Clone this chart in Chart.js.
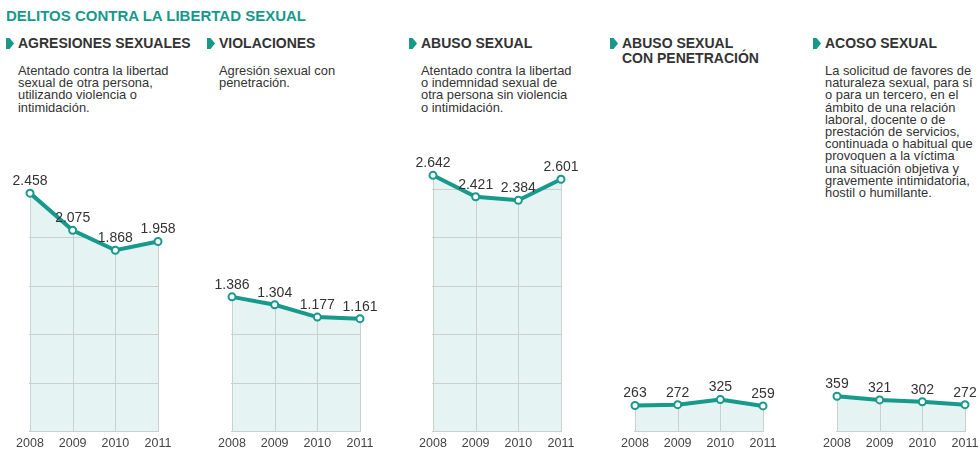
<!DOCTYPE html>
<html lang="es">
<head>
<meta charset="utf-8">
<script src="https://cdn.jsdelivr.net/npm/chart.js@4.4.1/dist/chart.umd.min.js"></script>
<style>
  body { margin: 0; width: 980px; height: 460px; background: #fff; position: relative; overflow: hidden;
         font-family: 'Liberation Sans', Arial, sans-serif; }
  .main-title { position: absolute; left: 6px; top: 7px; font-size: 15px; font-weight: bold; color: #16998b; }
  .panel-title { position: absolute; top: 36px; font-size: 14px; font-weight: bold; color: #333; line-height: 14.5px; }
  .panel-title::before { content: ''; position: absolute; left: -12px; top: 2px; width: 8px; height: 11px;
         background: #16998b; clip-path: polygon(0 0, 45% 0, 100% 50%, 45% 100%, 0 100%); }
  .desc { position: absolute; top: 65px; font-size: 12.9px; color: #333; line-height: 12.2px; }
  canvas { position: absolute; }
</style>
</head>
<body>
<div class="main-title">DELITOS CONTRA LA LIBERTAD SEXUAL</div>

<div class="panel-title" style="left:18px">AGRESIONES SEXUALES</div>
<div class="desc" style="left:18px">Atentado contra la libertad<br>sexual de otra persona,<br>utilizando violencia o<br>intimidación.</div>

<div class="panel-title" style="left:219px">VIOLACIONES</div>
<div class="desc" style="left:219px">Agresión sexual con<br>penetración.</div>

<div class="panel-title" style="left:421px">ABUSO SEXUAL</div>
<div class="desc" style="left:421px">Atentado contra la libertad<br>o indemnidad sexual de<br>otra persona sin violencia<br>o intimidación.</div>

<div class="panel-title" style="left:622px">ABUSO SEXUAL<br>CON PENETRACIÓN</div>

<div class="panel-title" style="left:825px">ACOSO SEXUAL</div>
<div class="desc" style="left:825px">La solicitud de favores de<br>naturaleza sexual, para sí<br>o para un tercero, en el<br>ámbito de una relación<br>laboral, docente o de<br>prestación de servicios,<br>continuada o habitual que<br>provoquen a la víctima<br>una situación objetiva y<br>gravemente intimidatoria,<br>hostil o humillante.</div>

<canvas id="c0"></canvas>
<canvas id="c1"></canvas>
<canvas id="c2"></canvas>
<canvas id="c3"></canvas>
<canvas id="c4"></canvas>

<script>
// data
const years = ['2008', '2009', '2010', '2011'];
const agresiones = [2458, 2075, 1868, 1958];
const violaciones = [1386, 1304, 1177, 1161];
const abuso = [2642, 2421, 2384, 2601];
const abusoPenetracion = [263, 272, 325, 259];
const acoso = [359, 321, 302, 272];

const series = [agresiones, violaciones, abuso, abusoPenetracion, acoso];
const panelLefts = [30, 232, 433, 635, 837];

const teal = '#17998c';
const fillColor = '#e5f3f2';
const gridColor = '#c9d0cf';
const font = "'Liberation Sans', Arial, sans-serif";

const fmt = (v) => String(v).replace(/\B(?=(\d{3})+(?!\d))/g, '.');

// grid lines only inside the filled area, value labels above points
const clippedGrid = {
  id: 'clippedGrid',
  beforeDatasetsDraw(chart) {
    const { ctx, scales } = chart;
    const pts = chart.getDatasetMeta(0).data;
    const base = scales.y.getPixelForValue(0);
    const values = chart.data.datasets[0].data;
    const max = Math.max(...values);

    ctx.save();
    ctx.beginPath();
    ctx.moveTo(pts[0].x - 1, base + 1);
    ctx.lineTo(pts[0].x - 1, pts[0].y);
    pts.forEach((p) => ctx.lineTo(p.x, p.y));
    ctx.lineTo(pts[pts.length - 1].x + 1, pts[pts.length - 1].y);
    ctx.lineTo(pts[pts.length - 1].x + 1, base + 1);
    ctx.closePath();
    ctx.clip();

    ctx.strokeStyle = gridColor;
    ctx.lineWidth = 1;
    ctx.beginPath();
    for (let v = 0; v <= max; v += 500) {
      const y = Math.round(scales.y.getPixelForValue(v)) + 0.5;
      ctx.moveTo(pts[0].x - 1, y);
      ctx.lineTo(pts[pts.length - 1].x + 1, y);
    }
    pts.forEach((p) => {
      const x = Math.round(p.x) + 0.5;
      ctx.moveTo(x, base);
      ctx.lineTo(x, p.y);
    });
    ctx.stroke();
    ctx.restore();
  },
  afterDatasetsDraw(chart) {
    const { ctx } = chart;
    const pts = chart.getDatasetMeta(0).data;
    const values = chart.data.datasets[0].data;
    ctx.save();
    ctx.font = `14px ${font}`;
    ctx.fillStyle = '#333';
    ctx.textAlign = 'center';
    ctx.textBaseline = 'bottom';
    pts.forEach((p, i) => ctx.fillText(fmt(values[i]), p.x, p.y - 5));
    ctx.restore();
  },
};

series.forEach((values, i) => {
  const canvas = document.getElementById(`c${i}`);
  canvas.style.left = `${panelLefts[i] - 30}px`;
  canvas.style.top = '140px';
  canvas.style.width = '200px';
  canvas.style.height = '320px';

  new Chart(canvas, {
    type: 'line',
    data: {
      labels: years,
      datasets: [{
        data: values,
        borderColor: teal,
        borderWidth: 4,
        backgroundColor: fillColor,
        fill: 'origin',
        tension: 0,
        pointRadius: 3.5,
        pointBackgroundColor: '#fff',
        pointBorderColor: teal,
        pointBorderWidth: 2,
      }],
    },
    options: {
      responsive: false,
      animation: false,
      events: [],
      layout: { padding: { left: 30, right: 42, top: 0, bottom: 0 } },
      scales: {
        x: {
          offset: false,
          grid: { display: false, drawTicks: false },
          border: { display: false },
          ticks: { color: '#444', font: { family: font, size: 12.5 }, padding: 5, maxRotation: 0 },
          afterFit(scale) { scale.height = 29; },
        },
        y: { display: false, min: 0, max: 2945 },
      },
      plugins: {
        legend: { display: false },
        tooltip: { enabled: false },
        filler: { drawTime: 'beforeDatasetsDraw' },
      },
    },
    plugins: [clippedGrid],
  });
});
</script>
</body>
</html>
